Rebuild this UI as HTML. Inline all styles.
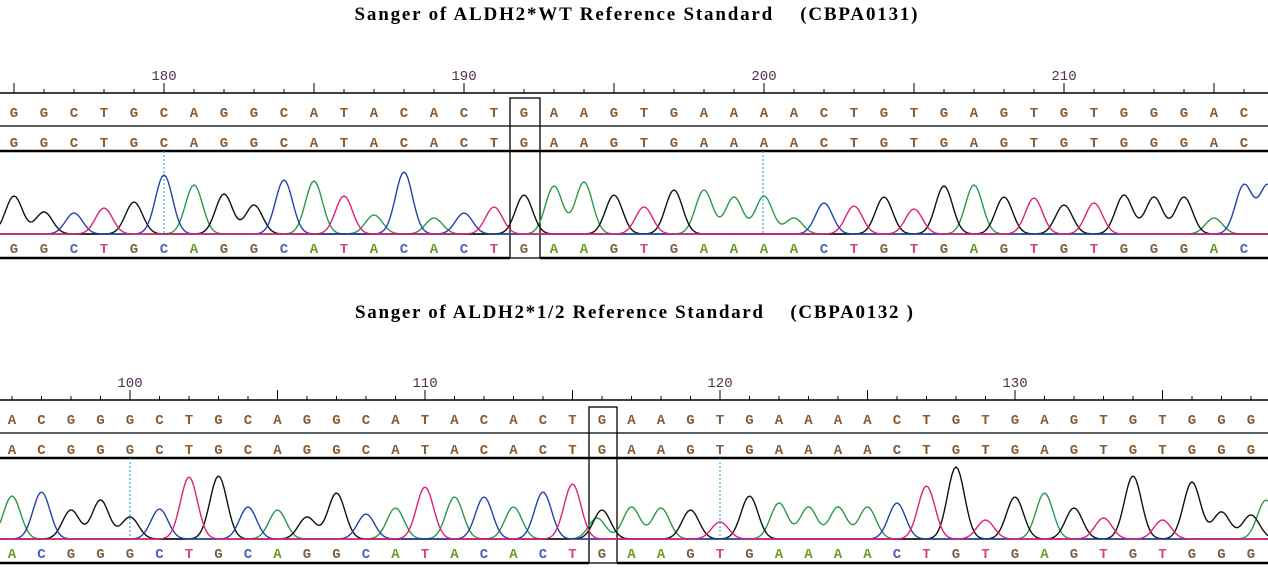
<!DOCTYPE html>
<html><head><meta charset="utf-8"><style>
html,body{margin:0;padding:0;background:#fff;width:1268px;height:586px;overflow:hidden}
svg{display:block}
</style></head><body>
<svg id="s" width="1268" height="586" xmlns="http://www.w3.org/2000/svg">
<text x="636" y="20" text-anchor="middle" font-family="Liberation Serif,serif" font-weight="bold" font-size="19" style="white-space:pre" textLength="563" lengthAdjust="spacing">Sanger of ALDH2*WT Reference Standard    (CBPA0131)</text>
<text x="634" y="318" text-anchor="middle" font-family="Liberation Serif,serif" font-weight="bold" font-size="19" style="white-space:pre" textLength="558" lengthAdjust="spacing">Sanger of ALDH2*1/2 Reference Standard    (CBPA0132 )</text>
</svg>
<script>
var S=document.getElementById('s'),NS='http://www.w3.org/2000/svg';
function el(t,a,txt){var e=document.createElementNS(NS,t);for(var k in a)e.setAttribute(k,a[k]);if(txt!=null)e.textContent=txt;S.appendChild(e);return e;}
var col={A:'#2a9a4a',C:'#2244aa',G:'#111',T:'#e0207a'};
var lcol={A:'#6a9a20',C:'#5060c0',G:'#7a6040',T:'#e0408a'};
function panel(o){
 var n=o.seq.length;
 el('line',{x1:0,y1:o.ry,x2:1268,y2:o.ry,stroke:'#000','stroke-width':1.5});
 for(var i=-1;i<=n;i++){var p=o.start+i,x=o.x0+i*o.dx;if(x<0||x>1268)continue;
  var maj=p%5==0;el('line',{x1:x,y1:o.ry,x2:x,y2:o.ry-(maj?10:4),stroke:'#000','stroke-width':1});
  if(p%10==0)el('text',{x:x,y:o.ry-13,'text-anchor':'middle','font-family':'Liberation Mono,monospace','font-size':14,fill:'#503050'},p);}
 el('line',{x1:0,y1:o.sep,x2:1268,y2:o.sep,stroke:'#000','stroke-width':1.2});
 el('line',{x1:0,y1:o.thick,x2:1268,y2:o.thick,stroke:'#000','stroke-width':2.5});
 el('line',{x1:0,y1:o.bot,x2:o.bx1,y2:o.bot,stroke:'#000','stroke-width':2.5});
 el('line',{x1:o.bx2,y1:o.bot,x2:1268,y2:o.bot,stroke:'#000','stroke-width':2.5});
 el('rect',{x:o.bx1,y:o.by,width:o.bx2-o.bx1,height:o.bot-o.by,fill:'none',stroke:'#000','stroke-width':1.3});
 for(var i=0;i<n;i++){var x=o.x0+i*o.dx,b=o.seq[i];
  [o.r1,o.r2].forEach(function(y){el('text',{x:x,y:y,'text-anchor':'middle','font-family':'Liberation Mono,monospace','font-weight':'bold','font-size':14,fill:'#8a5a30'},b);});
  el('text',{x:x,y:o.r3,'text-anchor':'middle','font-family':'Liberation Mono,monospace','font-weight':'bold','font-size':14,fill:lcol[b]},b);}
 o.dash.forEach(function(x){el('line',{x1:x,y1:o.thick,x2:x,y2:o.base,stroke:'#1a9ad0','stroke-width':1,'stroke-dasharray':'2,2'});});
 el('line',{x1:0,y1:o.base,x2:1268,y2:o.base,stroke:'#e0207a','stroke-width':1.5});
 var peaks=[];for(var i=0;i<n;i++)peaks.push([o.x0+i*o.dx,o.seq[i],o.base-o.h[i]]);
 (o.extra||[]).forEach(function(e){peaks.push(e);});
 'AGCT'.split('').forEach(function(b){
  var d='';for(var x=0;x<=1268;x+=2){var y=0;peaks.forEach(function(p){if(p[1]==b){var t=(x-p[0])/8.5;y+=(o.base-p[2])*Math.exp(-t*t/2);}});
   d+=(x?'L':'M')+x+' '+(o.base-y).toFixed(1);}
  el('path',{d:d,fill:'none',stroke:col[b],'stroke-width':1.4});});
}
var seqTop="GGCTGCAGGCATACACTGAAGTGAAAACTGTGAGTGTGGGAC";
var th=[196,212,213,208,202,175,185,194,205,180,181,196,215,172,218,213,207,195,186,182,195,207,190,190,197,196,218,203,206,197,209,186,185,197,198,205,203,195,197,197,218,185].map(function(v){return 234-v;});
panel({seq:seqTop,start:175,x0:14,dx:30,ry:93,r1:117,r2:147,r3:253,sep:126,thick:151,base:234,bot:258,by:98,bx1:510,bx2:540,h:th,dash:[164,763],extra:[[1268,'C',185]]});
var seqBot="ACGGGCTGCAGGCATACACTGAAGTGAAAACTGTGAGTGTGGG";
var bh=[496,492,510,500,517,509,477,476,507,510,517,493,514,508,487,497,497,507,492,484,510,507,508,510,522,496,503,507,507,507,503,486,467,520,497,493,508,518,476,520,482,512,515].map(function(v){return 539-v;});
panel({seq:seqBot,start:96,x0:12,dx:29.5,ry:400,r1:424,r2:454,r3:558,sep:433,thick:458,base:539,bot:563,by:407,bx1:589,bx2:617,h:bh,dash:[130,720],extra:[[597,'A',518],[1266,'A',500]]});
</script>
</body></html>
